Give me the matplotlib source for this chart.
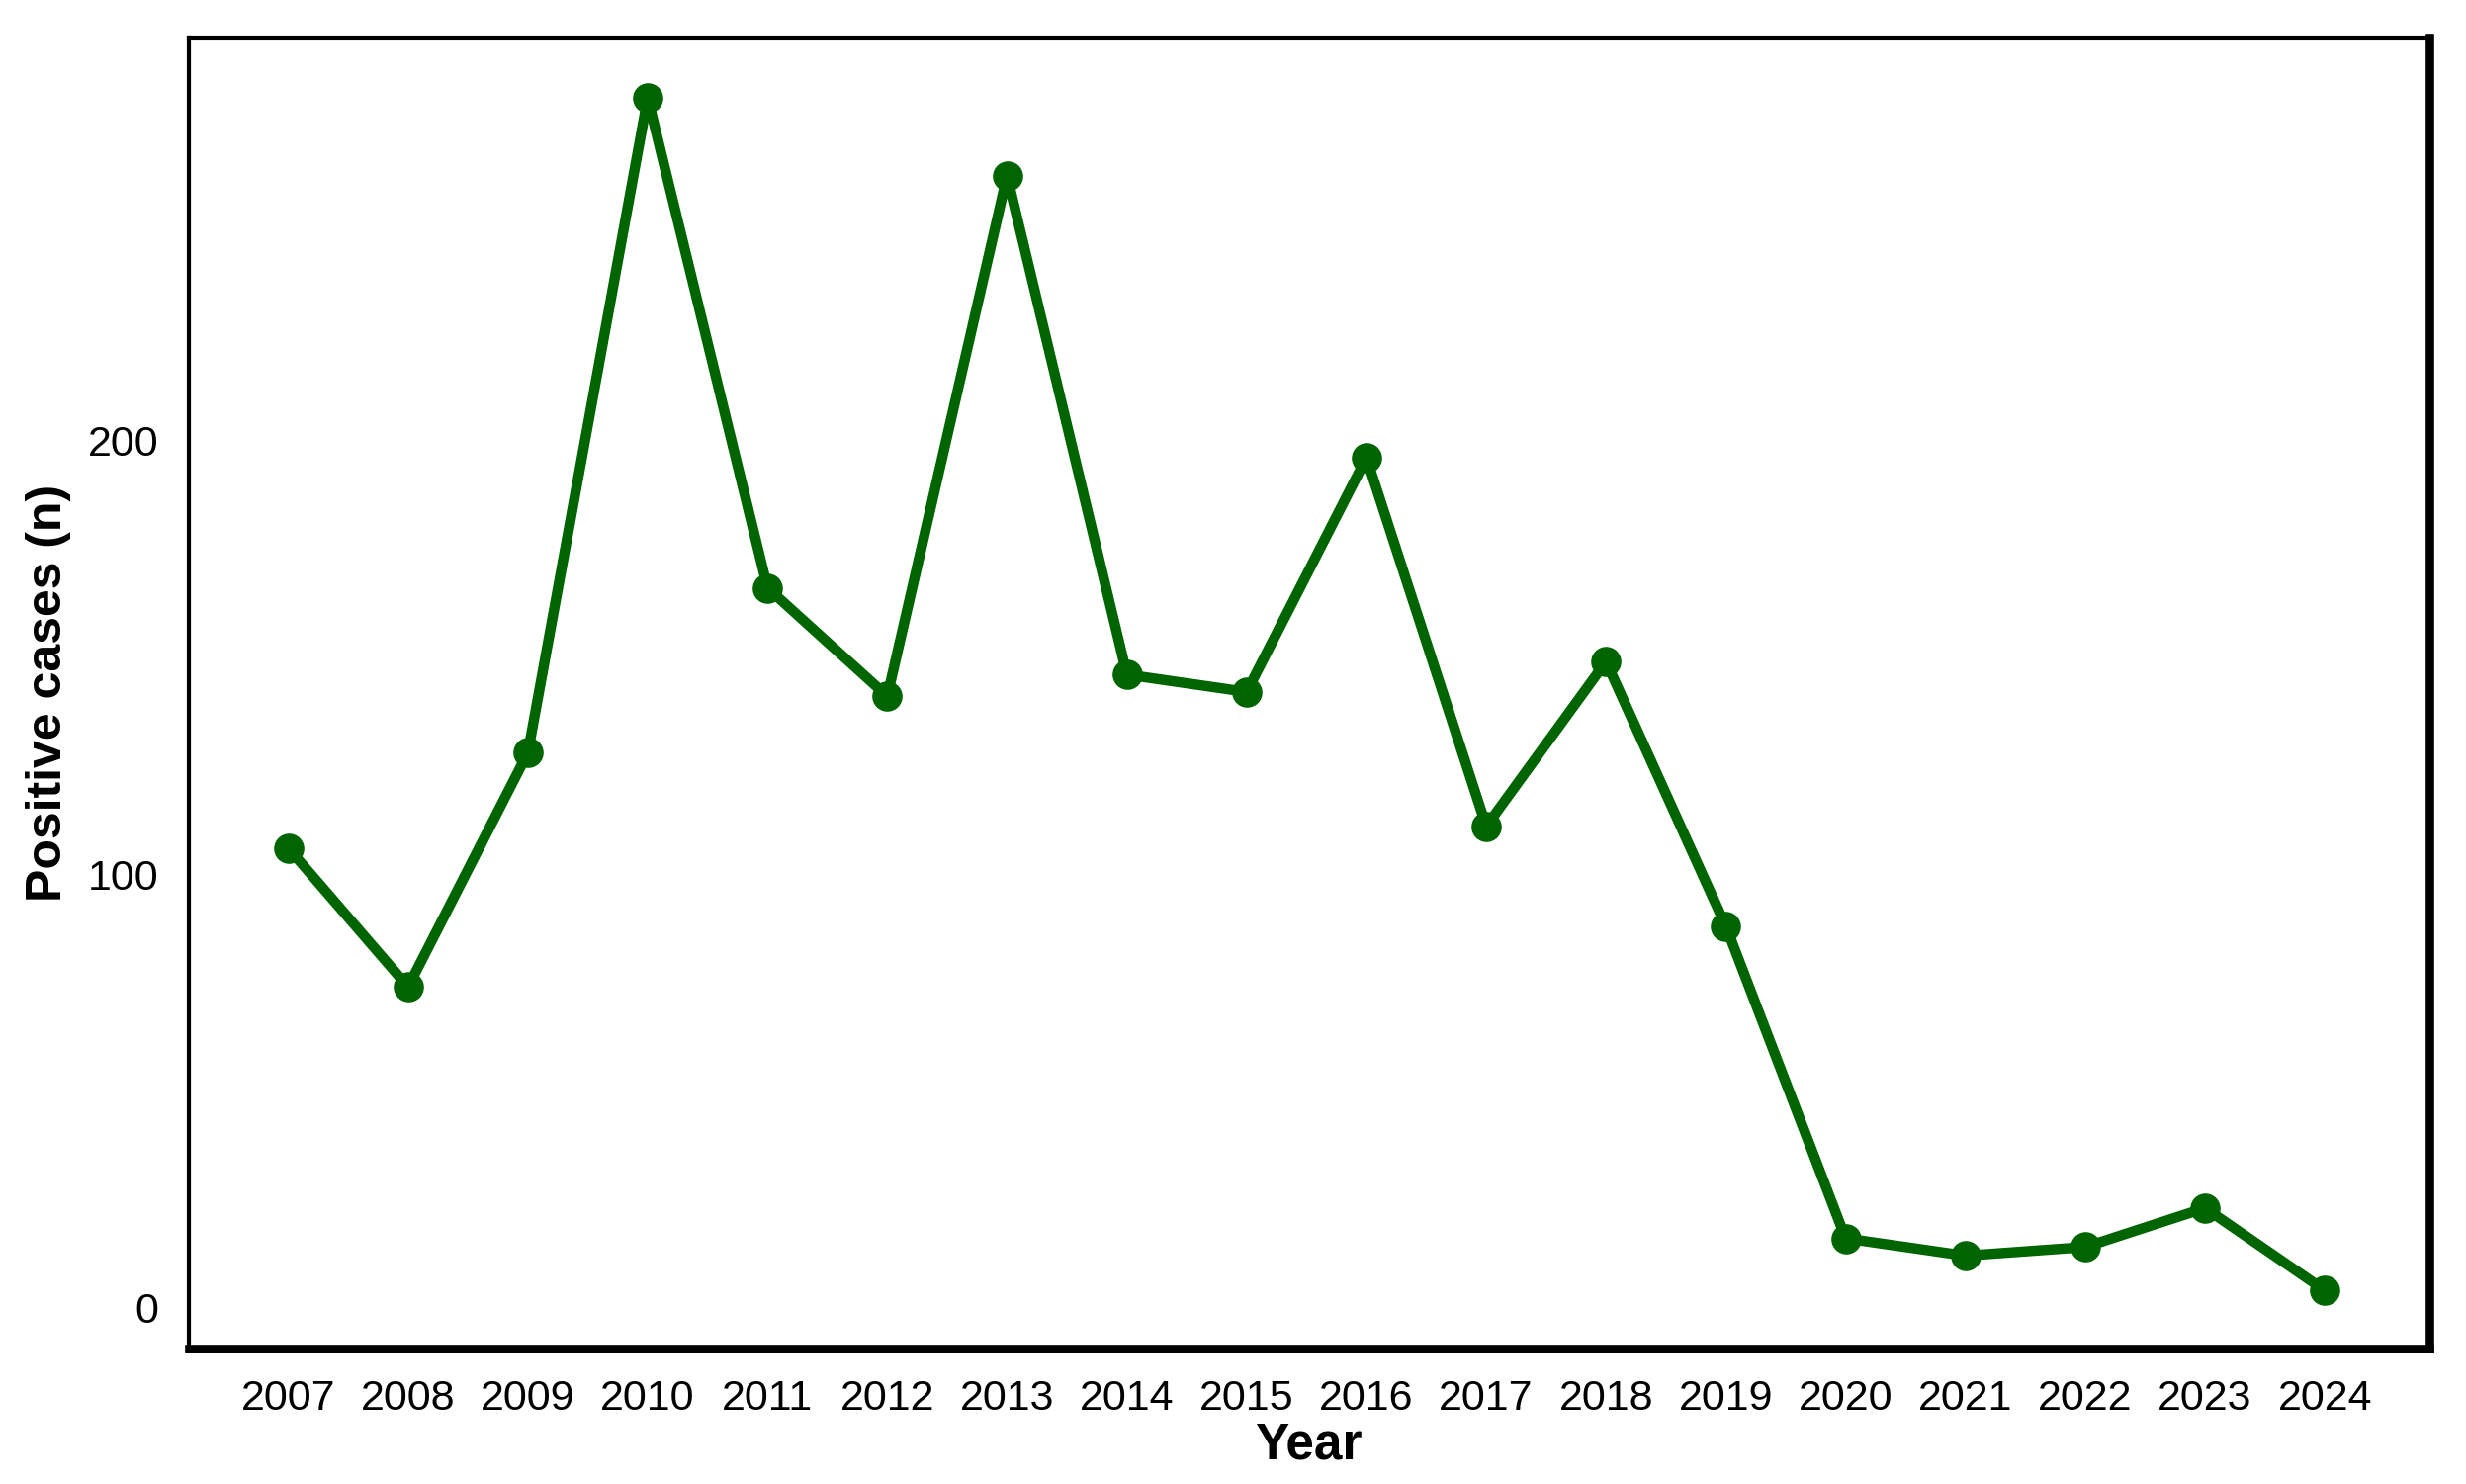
import matplotlib
matplotlib.use("Agg")
import matplotlib.pyplot as plt

years = [2007, 2008, 2009, 2010, 2011, 2012, 2013, 2014, 2015,
         2016, 2017, 2018, 2019, 2020, 2021, 2022, 2023, 2024]
cases = [106, 74, 128, 279, 166, 141, 261, 146, 142,
         196, 111, 149, 88, 16, 12, 14, 23, 4]
yticks = [0, 100, 200]

plt.rcParams['font.family'] = ['Liberation Sans', 'DejaVu Sans']

fig = plt.figure(figsize=(24.94, 15.01), dpi=100)
ax = fig.add_axes([0.0766, 0.0913, 0.985 - 0.0766, 0.975 - 0.0913])

ax.plot(years, cases, color='#006400', linewidth=7.5, marker='o',
        markersize=21, markerfacecolor='#006400', markeredgecolor='#006400',
        solid_joinstyle='round', solid_capstyle='round')

ax.set_xlim(2006.17, 2024.87)
ax.set_ylim(-9.4, 293)
ax.set_xticks(years)
ax.set_xticklabels([str(y) for y in years])
ax.set_yticks(yticks)
ax.tick_params(axis='both', length=0, labelsize=31, colors='black')
ax.tick_params(axis='x', pad=22)
ax.tick_params(axis='y', pad=22)

for side in ['left', 'top']:
    ax.spines[side].set_linewidth(3.0)
for side in ['right', 'bottom']:
    ax.spines[side].set_linewidth(6.2)
for s in ax.spines.values():
    s.set_color('black')

ax.set_xlabel('Year', fontsize=37, fontweight='bold', labelpad=2)
ax.set_ylabel('Positive cases (n)', fontsize=36, fontweight='bold', labelpad=12)

fig.savefig('out.png', dpi=100, facecolor='white')
